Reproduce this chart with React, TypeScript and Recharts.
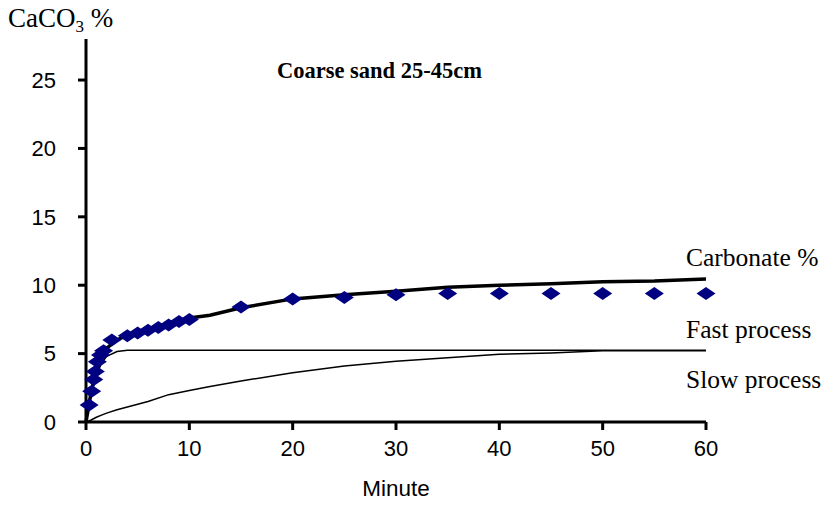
import { ComposedChart, Line, Scatter, XAxis, YAxis } from 'recharts';

// fitted curves (minutes -> CaCO3 %)
const fitTimes = [0, 0.5, 1, 1.5, 2, 3, 4, 5, 6, 8, 10, 12, 15, 20, 25, 30, 35, 40, 45, 50, 55, 60];
const carbonateFit = [0, 2.2, 3.8, 4.8, 5.4, 6.0, 6.35, 6.6, 6.8, 7.2, 7.6, 7.8, 8.35, 9.0, 9.3, 9.55, 9.85, 10.0, 10.1, 10.25, 10.3, 10.45];
const fastFit = [0, 2.0, 3.4, 4.3, 4.8, 5.15, 5.25, 5.25, 5.25, 5.25, 5.25, 5.25, 5.25, 5.25, 5.25, 5.25, 5.25, 5.25, 5.25, 5.25, 5.25, 5.25];
const slowFit = [0, 0.15, 0.35, 0.5, 0.65, 0.9, 1.1, 1.3, 1.5, 2.0, 2.3, 2.6, 3.0, 3.6, 4.1, 4.45, 4.7, 4.95, 5.05, 5.2, 5.2, 5.2];

// measured points
const measuredTimes = [0.3, 0.55, 0.75, 0.9, 1.1, 1.4, 1.7, 2.5, 4, 5, 6, 7, 8, 9, 10, 15, 20, 25, 30, 35, 40, 45, 50, 55, 60];
const measuredValues = [1.25, 2.25, 3.1, 3.7, 4.4, 4.9, 5.2, 6.0, 6.3, 6.5, 6.7, 6.9, 7.1, 7.35, 7.5, 8.4, 9.0, 9.1, 9.3, 9.4, 9.4, 9.4, 9.4, 9.4, 9.4];

const xTicks = [0, 10, 20, 30, 40, 50, 60];
const yTicks = [0, 5, 10, 15, 20, 25];

const carbonateRows = fitTimes.map((t, i) => ({ t, v: carbonateFit[i] }));
const fastRows = fitTimes.map((t, i) => ({ t, v: fastFit[i] }));
const slowRows = fitTimes.map((t, i) => ({ t, v: slowFit[i] }));
const measuredRows = measuredTimes.map((t, i) => ({ t, v: measuredValues[i] }));

const Diamond = (props: any) => {
  const { cx, cy } = props;
  if (cx == null || cy == null) return null;
  return (
    <polygon
      points={`${cx - 9.5},${cy} ${cx},${cy - 6.5} ${cx + 9.5},${cy} ${cx},${cy + 6.5}`}
      fill="#000080"
    />
  );
};

const serif = '"Liberation Serif", "Times New Roman", serif';
const sans = '"Liberation Sans", Arial, sans-serif';
const tickStyle = { fontSize: 22, fill: '#000', fontFamily: sans };

const note = (top: number, left: number, text: string, extra = {}) => (
  <div
    style={{
      position: 'absolute',
      top,
      left,
      fontFamily: serif,
      fontSize: 25.5,
      lineHeight: 1,
      whiteSpace: 'nowrap',
      color: '#000',
      ...extra,
    }}
  >
    {text}
  </div>
);

export default function App() {
  return (
    <div style={{ position: 'absolute', top: 0, left: 0, width: 823, height: 508, background: '#fff' }}>
      <ComposedChart width={823} height={508} margin={{ top: 39, right: 117, bottom: 46, left: 26 }}>
        <XAxis
          type="number"
          dataKey="t"
          domain={[0, 60]}
          ticks={xTicks}
          interval={0}
          allowDuplicatedCategory={false}
          height={40}
          tick={tickStyle}
          tickSize={8}
          tickMargin={10}
          axisLine={{ stroke: '#000', strokeWidth: 3 }}
          tickLine={{ stroke: '#000', strokeWidth: 3 }}
          label={{ value: 'Minute', position: 'insideBottom', offset: -34, fontSize: 22.5, fill: '#000', fontFamily: sans }}
        />
        <YAxis
          type="number"
          dataKey="v"
          domain={[0, 28]}
          ticks={yTicks}
          interval={0}
          width={60}
          tick={tickStyle}
          tickSize={8}
          tickMargin={22}
          axisLine={{ stroke: '#000', strokeWidth: 3 }}
          tickLine={{ stroke: '#000', strokeWidth: 3 }}
        />
        <Line data={slowRows} dataKey="v" stroke="#000" strokeWidth={1.5} dot={false} isAnimationActive={false} type="linear" />
        <Line data={fastRows} dataKey="v" stroke="#000" strokeWidth={1.5} dot={false} isAnimationActive={false} type="linear" />
        <Line data={carbonateRows} dataKey="v" stroke="#000" strokeWidth={3.5} dot={false} isAnimationActive={false} type="linear" />
        <Scatter data={measuredRows} dataKey="v" shape={Diamond} isAnimationActive={false} />
      </ComposedChart>
      <div style={{ position: 'absolute', top: 5, left: 8, fontFamily: serif, fontSize: 27, lineHeight: 1, whiteSpace: 'nowrap' }}>
        CaCO<sub style={{ fontSize: 17, verticalAlign: -5 }}>3</sub> %
      </div>
      {note(60, 277, 'Coarse sand 25-45cm', { fontWeight: 'bold', fontSize: 22.5 })}
      {note(245, 686, 'Carbonate %')}
      {note(317, 686, 'Fast process')}
      {note(367, 686, 'Slow process')}
    </div>
  );
}
